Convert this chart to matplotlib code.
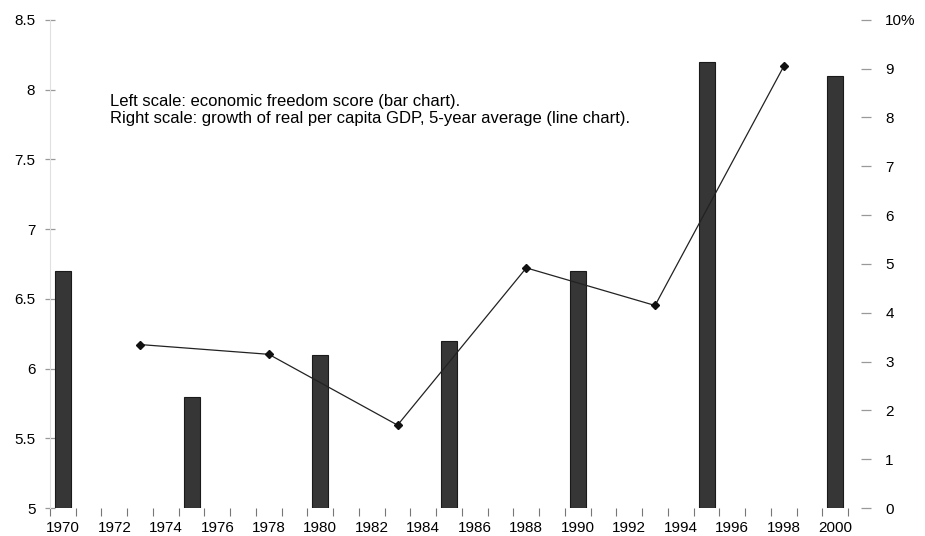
import numpy as np
import matplotlib.pyplot as plt

# economic freedom score (left scale, bars)
bar_years = [1970, 1975, 1980, 1985, 1990, 1995, 2000]
freedom_score = [6.7, 5.8, 6.1, 6.2, 6.7, 8.2, 8.1]

# growth of real per capita GDP, 5-year average (right scale, line)
line_years = [1973, 1978, 1983, 1988, 1993, 1998]
gdp_growth = [3.35, 3.15, 1.7, 4.92, 4.15, 9.05]

left_ticks = [5, 5.5, 6, 6.5, 7, 7.5, 8, 8.5]
left_labels = ["5", "5.5", "6", "6.5", "7", "7.5", "8", "8.5"]
right_ticks = list(range(0, 11))
right_labels = [str(v) for v in range(0, 10)] + ["10%"]
year_labels = list(range(1970, 2001, 2))

plt.rcParams['font.family'] = ['Liberation Sans', 'DejaVu Sans']
fs = 11

fig = plt.figure(figsize=(9.25, 5.36), dpi=100)
ax = fig.add_axes([0.054, 0.052, 0.888, 0.911])

ax.bar(bar_years, [v - 5 for v in freedom_score], bottom=5, width=0.62,
       color='#363636', edgecolor='#1a1a1a', linewidth=0.8, zorder=2)
ax.set_xlim(1969.574, 2001.4)
ax.set_ylim(5, 8.5)
ax.set_yticks(left_ticks)
ax.set_yticklabels(left_labels)
ax.set_xticks(year_labels)
ax.set_xticklabels([str(y) for y in year_labels])
ax.set_xticks(np.arange(1969.5, 2000.6, 1.0), minor=True)
ax.tick_params(axis='x', which='major', length=0, pad=9, labelsize=fs)
ax.tick_params(axis='x', which='minor', length=6, width=0.8, color='#777777', direction='out', pad=2)
ax.tick_params(axis='y', which='major', length=7, width=0.9, color='#999999',
               direction='inout', pad=7, labelsize=fs)

for s in ['top', 'right', 'bottom']:
    ax.spines[s].set_visible(False)
ax.spines['left'].set_color('#e0e0e0')
ax.spines['left'].set_linewidth(0.8)

ax2 = ax.twinx()
ax2.plot(line_years, gdp_growth, color='#222222', linewidth=0.9,
         marker='D', markersize=4.5, markerfacecolor='#111111', markeredgecolor='#111111', zorder=3)
ax2.set_ylim(0, 10)
ax2.set_yticks(right_ticks)
ax2.set_yticklabels(right_labels)
ax2.tick_params(axis='y', length=7, width=0.9, color='#999999', direction='in', pad=10, labelsize=fs)
for s in ['top', 'right', 'bottom', 'left']:
    ax2.spines[s].set_visible(False)

ax.text(0.073, 0.816, "Left scale: economic freedom score (bar chart).\n"
        "Right scale: growth of real per capita GDP, 5-year average (line chart).",
        transform=ax.transAxes, fontsize=12, va='center', ha='left', linespacing=1.15)

fig.savefig('out.png', dpi=100)
